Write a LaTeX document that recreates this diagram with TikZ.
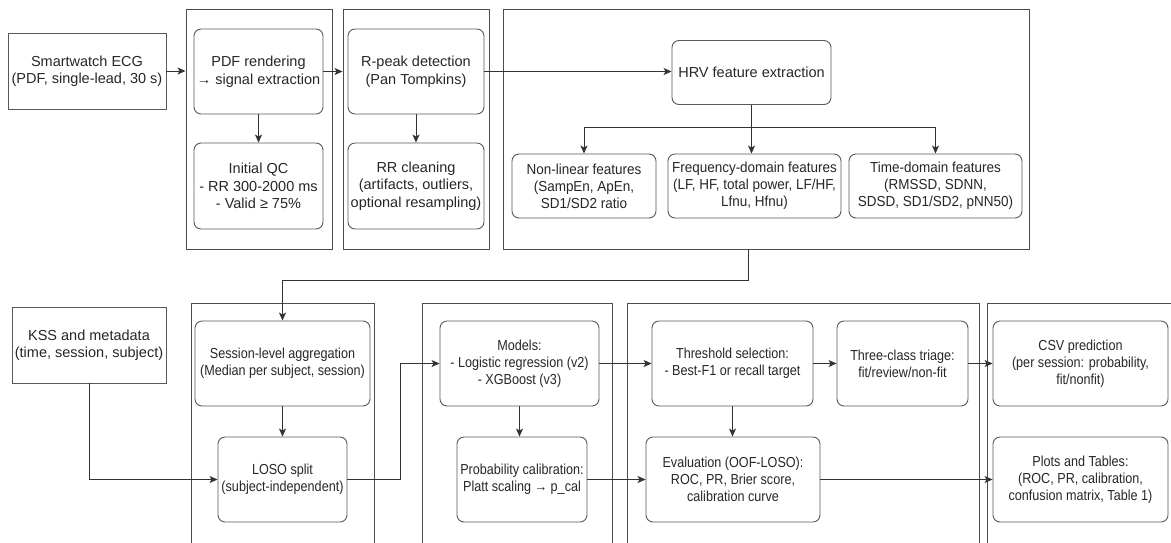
\documentclass[tikz,border=0pt]{standalone}
\usepackage{fontspec}
\setmainfont{Liberation Sans}
\newfontfamily\featfont[FakeStretch=0.93]{Liberation Sans}
\newfontfamily\narrowfont[FakeStretch=0.87]{Liberation Sans}
\usetikzlibrary{arrows.meta}

\begin{document}
\begin{tikzpicture}[x=1pt,y=-1pt]
\tikzstyle{flow} = [-{Stealth[length=8pt,width=7pt,inset=2pt]}, line width=0.9pt, black!80]
\tikzstyle{stage} = [draw=black!65, line width=0.9pt, rounded corners=7pt, align=center, inner sep=0pt, text=black!85, font=\fontsize{14.5}{17.5}\selectfont]
\tikzstyle{source} = [stage, sharp corners]
\tikzstyle{feat} = [stage, font=\featfont\fontsize{14.5}{17}\selectfont]
\tikzstyle{late} = [stage, font=\narrowfont\fontsize{14.5}{17}\selectfont]
\tikzstyle{group} = [draw=black!70, line width=0.9pt, inner sep=0pt]
\useasboundingbox (0,0) rectangle (1171,542);
\clip (0,0) rectangle (1171,542);
\node[group, minimum width=146, minimum height=240] (g1) at (259,129) {};
\node[group, minimum width=146, minimum height=240] (g2) at (416,129) {};
\node[group, minimum width=526, minimum height=240] (g3) at (766,129) {};
\node[group, minimum width=183, minimum height=257] (g4) at (282.5,431.5) {};
\node[group, minimum width=190, minimum height=257] (g5) at (517,431.5) {};
\node[group, minimum width=352, minimum height=257] (g6) at (803,431.5) {};
\node[group, minimum width=203, minimum height=257] (g7) at (1088.5,431.5) {};
\node[source, minimum width=158, minimum height=76] (ecg) at (87,71) {Smartwatch ECG\\(PDF, single-lead, 30 s)};
\node[stage, minimum width=129, minimum height=85] (pdf) at (258.5,71.5) {PDF rendering\\→ signal extraction};
\node[stage, minimum width=129, minimum height=86] (qc) at (258.5,186) {Initial QC\\- RR 300-2000 ms\\- Valid ≥ 75\%};
\node[stage, minimum width=136, minimum height=85] (rpeak) at (416,71.5) {R-peak detection\\(Pan Tompkins)};
\node[stage, minimum width=136, minimum height=86] (rr) at (416,186) {RR cleaning\\(artifacts, outliers,\\optional resampling)};
\node[stage, minimum width=159, minimum height=64] (hrv) at (751.5,72.5) {HRV feature extraction};
\node[feat, minimum width=144, minimum height=64] (nonlin) at (584,186) {Non-linear features\\(SampEn, ApEn,\\SD1/SD2 ratio};
\node[feat, minimum width=173, minimum height=64] (freq) at (754.5,186) {Frequency-domain features\\(LF, HF, total power, LF/HF,\\Lfnu, Hfnu)};
\node[feat, minimum width=173, minimum height=64] (time) at (935.5,186) {Time-domain features\\(RMSSD, SDNN,\\SDSD, SD1/SD2, pNN50)};
\node[source, minimum width=154, minimum height=76] (kss) at (89,345) {KSS and metadata\\(time, session, subject)};
\node[late, minimum width=175, minimum height=85] (session) at (282.5,363.5) {Session-level aggregation\\(Median per subject, session)};
\node[late, minimum width=129, minimum height=85] (loso) at (282.5,479.5) {LOSO split\\(subject-independent)};
\node[late, minimum width=159, minimum height=85] (models) at (519.5,363.5) {Models:\\- Logistic regression (v2)\\- XGBoost (v3)};
\node[late, minimum width=130, minimum height=85] (calib) at (522,479.5) {Probability calibration:\\Platt scaling → p\_cal};
\node[late, minimum width=161, minimum height=85] (thresh) at (732.5,363.5) {Threshold selection:\\- Best-F1 or recall target};
\node[late, minimum width=131, minimum height=85] (triage) at (902.5,363.5) {Three-class triage:\\fit/review/non-fit};
\node[late, minimum width=174, minimum height=85] (eval) at (733,479.5) {Evaluation (OOF-LOSO):\\ROC, PR, Brier score,\\calibration curve};
\node[late, minimum width=175, minimum height=85] (csv) at (1080.5,363.5) {CSV prediction\\(per session: probability,\\fit/nonfit)};
\node[late, minimum width=175, minimum height=85] (plots) at (1080.5,479.5) {Plots and Tables:\\(ROC, PR, calibration,\\confusion matrix, Table 1)};
\coordinate (hrvout) at (748,249);
\draw[flow] (ecg.east) -- (g1.west |- ecg.east);
\draw[flow] (pdf.east) -- (g2.west |- pdf.east);
\draw[flow] (rpeak.east) -- (hrv.west |- rpeak.east);
\draw[flow] (pdf) -- (qc);
\draw[flow] (rpeak) -- (rr);
\draw[flow] (hrv.south) -- ++(0,22) -| (nonlin.north);
\draw[flow] (hrv.south) -- ++(0,22) -| (time.north);
\draw[flow] (hrv.south) -- (hrv.south |- freq.north);
\draw[flow] (hrvout) -- ++(0,31) -| (session.north);
\draw[flow] (kss.south) |- (loso.west);
\draw[flow] (session) -- (loso);
\draw[flow] (loso.east) -- ++(53,0) |- (models.west);
\draw[flow] (models.south) -- (models.south |- calib.north);
\draw[flow] (models) -- (thresh);
\draw[flow] (calib) -- (eval);
\draw[flow] (thresh.south) -- (thresh.south |- eval.north);
\draw[flow] (thresh) -- (triage);
\draw[flow] (triage) -- (csv);
\draw[flow] (eval) -- (plots);
\end{tikzpicture}
\end{document}
